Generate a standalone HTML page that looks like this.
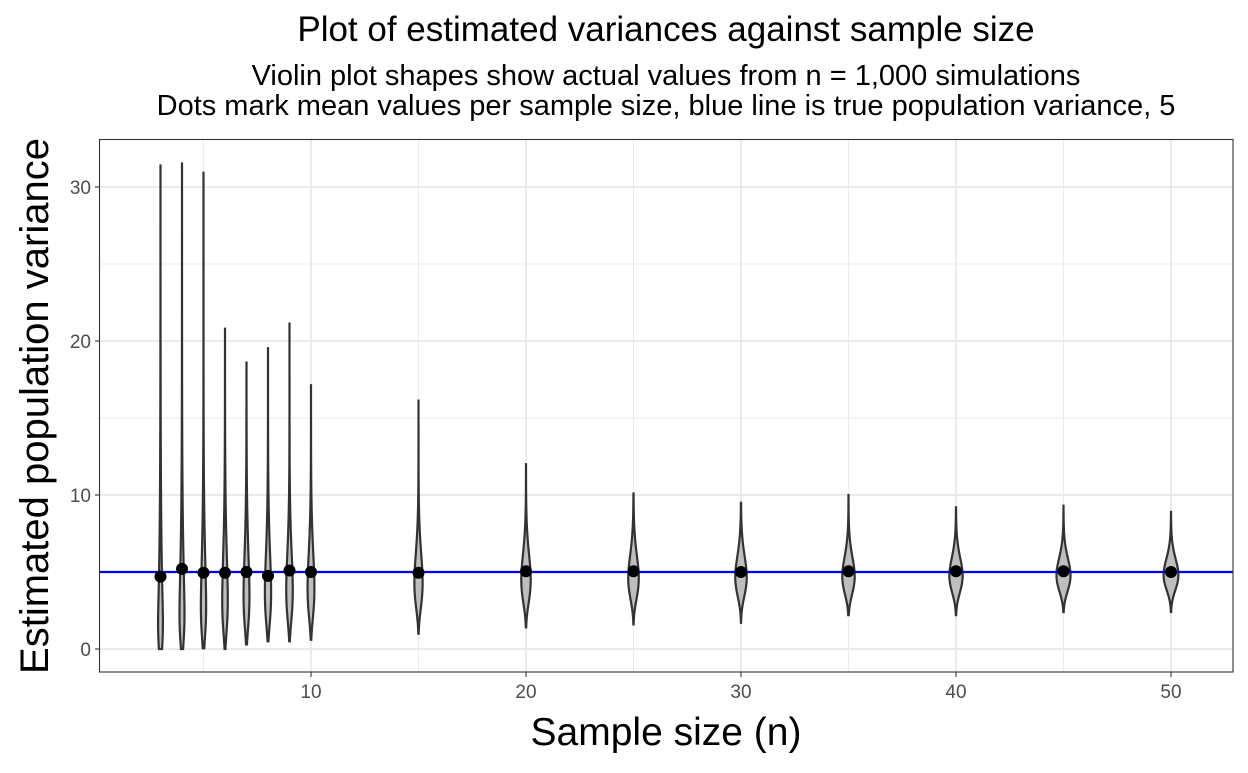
<!DOCTYPE html>
<html><head><meta charset="utf-8"><style>
body{margin:0;background:#fff;width:1248px;height:768px;overflow:hidden}
text{font-family:"Liberation Sans",sans-serif}
</style></head><body>
<svg id="s" width="1248" height="768" xmlns="http://www.w3.org/2000/svg">
<rect width="1248" height="768" fill="#fff"/>
<g id="grid"></g>
<g id="vio"></g>
<line x1="99.5" x2="1233" y1="572" y2="572" stroke="#0000ff" stroke-width="2.2"/>
<g id="pts"></g>
<rect x="99.5" y="139.5" width="1133.5" height="532.5" fill="none" stroke="#333" stroke-width="1.1"/>
<g id="ticks" font-size="19" fill="#4d4d4d"></g>
<text x="666" y="41" font-size="35" text-anchor="middle" fill="#000">Plot of estimated variances against sample size</text>
<text x="666" y="85" font-size="29" text-anchor="middle" fill="#000">Violin plot shapes show actual values from n = 1,000 simulations</text>
<text x="666" y="115" font-size="29" text-anchor="middle" fill="#000">Dots mark mean values per sample size, blue line is true population variance, 5</text>
<text x="666" y="745" font-size="39" text-anchor="middle" fill="#000">Sample size (n)</text>
<text transform="translate(48,406) rotate(-90)" font-size="40" text-anchor="middle" fill="#000">Estimated population variance</text>
</svg>
<script>
const NS="http://www.w3.org/2000/svg";
const X=v=>311+(v-10)*21.5, Y=v=>649-v*15.4;
function el(p,t,a){const e=document.createElementNS(NS,t);for(const k in a)e.setAttribute(k,a[k]);document.getElementById(p).appendChild(e);return e;}
for(let v=5;v<=50;v+=5){el('grid','line',{x1:X(v),x2:X(v),y1:140,y2:672,stroke:'#ebebeb','stroke-width':v%10?1:2});}
for(let v=0;v<=30;v+=5){el('grid','line',{x1:100,x2:1233,y1:Y(v),y2:Y(v),stroke:'#ebebeb','stroke-width':v%10?1:2});}
for(let v=10;v<=50;v+=10){el('ticks','line',{x1:X(v),x2:X(v),y1:672,y2:677,stroke:'#333','stroke-width':1.1});
 const t=el('ticks','text',{x:X(v),y:698,'text-anchor':'middle'});t.textContent=v;}
for(let v=0;v<=30;v+=10){el('ticks','line',{x1:95,x2:100,y1:Y(v),y2:Y(v),stroke:'#333','stroke-width':1.1});
 const t=el('ticks','text',{x:91,y:Y(v)+7,'text-anchor':'end'});t.textContent=v;}
const D=[[3,0,31.4,4.7],[4,0,31.6,5.2],[5,0.05,31.0,4.95],[6,0,20.8,4.95],[7,0.3,18.6,5.0],[8,0.5,19.6,4.75],[9,0.5,21.2,5.1],[10,0.6,17.2,5.0],
[15,1.0,16.2,4.95],[20,1.4,12.0,5.05],[25,1.6,10.1,5.05],[30,1.7,9.5,5.0],[35,2.2,10.0,5.05],[40,2.2,9.2,5.05],[45,2.4,9.3,5.05],[50,2.4,8.9,5.0]];
for(const [n,lo,hi,m] of D){
 const a=(n-1)/2, th=10/(n-1), sd=5*Math.sqrt(2/(n-1)), bw=sd*0.25;
 const N=400, xs=[],f=[];
 for(let i=0;i<N;i++){const x=(i+0.5)*40/N;xs.push(x);f.push(Math.exp((a-1)*Math.log(x)-x/th));}
 let s=f.reduce((p,c)=>p+c,0)*40/N;for(let i=0;i<N;i++)f[i]/=s;
 const g=[],ys=[];const M=160;
 for(let j=0;j<=M;j++){const y=lo+(hi-lo)*j/M;ys.push(y);let d=0;
  for(let i=0;i<N;i++){const z=(y-xs[i])/bw;d+=f[i]*Math.exp(-z*z/2);}
  g.push(d*40/N/(bw*2.5066));}
 const k=19, cx=X(n);
 let p='';for(let j=0;j<=M;j++)p+=(j?'L':'M')+(cx+k*g[j]).toFixed(2)+','+Y(ys[j]).toFixed(2);
 for(let j=M;j>=0;j--)p+='L'+(cx-k*g[j]).toFixed(2)+','+Y(ys[j]).toFixed(2);
 el('vio','path',{d:p+'Z',fill:'#bebebe',stroke:'#333','stroke-width':2.2});
 el('pts','circle',{cx:cx,cy:Y(m),r:6,fill:'#000'});
}
</script>
</body></html>
